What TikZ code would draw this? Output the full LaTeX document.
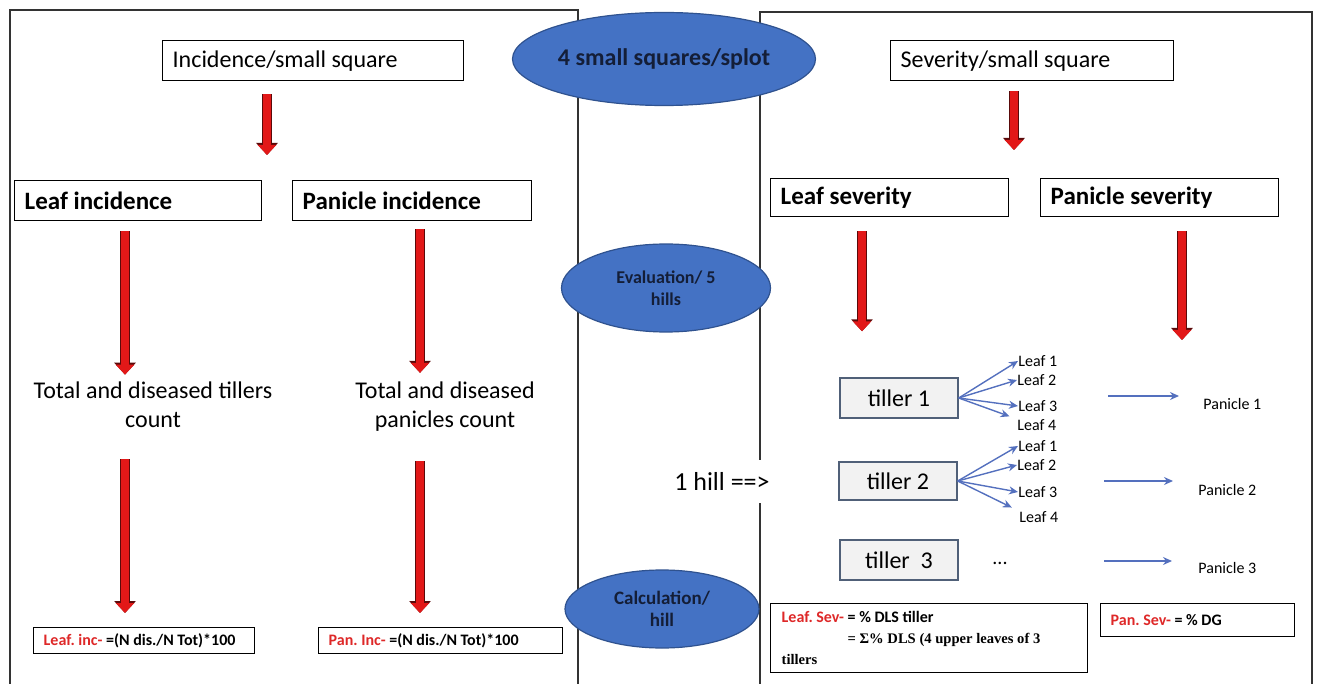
\documentclass[tikz,border=0pt]{standalone}
\usepackage{fontspec}
\setmainfont{Carlito}
\newfontfamily\timesfont{Liberation Serif}
\frenchspacing
\usetikzlibrary{arrows.meta,shapes.geometric}
\definecolor{ovalblue}{RGB}{68,114,196}
\definecolor{ovaledge}{RGB}{47,82,143}
\definecolor{ovaltext}{RGB}{20,30,55}
\definecolor{arrred}{RGB}{226,24,24}
\definecolor{arredge}{RGB}{90,10,10}
\definecolor{labred}{RGB}{222,40,40}
\definecolor{thinblue}{RGB}{84,112,190}
\definecolor{tillfill}{RGB}{242,242,242}
\definecolor{tilledge}{RGB}{80,96,120}
\tikzset{>={Stealth[length=4.5pt,width=4pt]}}
\tikzset{redarr/.style={draw=arrred, line width=4pt, -{Triangle[length=5pt,width=9pt]},
  preaction={draw=arredge, line width=5pt, -{Triangle[length=6pt,width=10.5pt]}}}}

\begin{document}
\begin{tikzpicture}[x=0.5pt,y=-0.5pt]

\tikzstyle{box}=[draw, line width=0.7pt, anchor=north west, inner xsep=5pt, inner ysep=0pt,
  execute at begin node={\spaceskip=0pt\xspaceskip=0pt\relax}]
\tikzstyle{head}=[box, minimum height=20pt, font=\fontsize{12.5}{15}\selectfont\bfseries]
\tikzstyle{formula}=[box, font=\fontsize{8}{10.5}\selectfont\bfseries]
\tikzstyle{oval}=[ellipse, fill=ovalblue, draw=ovaledge, line width=0.6pt, inner sep=0pt,
  text=ovaltext, align=center]
\tikzstyle{tiller}=[draw=tilledge, fill=tillfill, line width=0.7pt, minimum width=59pt,
  minimum height=20pt, font=\fontsize{12}{14}\selectfont]
\tikzstyle{small}=[inner sep=0pt, anchor=west, font=\fontsize{8}{9}\selectfont]
\tikzstyle{bluearr}=[thinblue, line width=0.7pt, ->]

\useasboundingbox (0,0) rectangle (1317,684);

% panels
\draw[line width=0.7pt, black!80] (10,684) -- (10,10) -- (578,10) -- (578,684);
\draw[line width=0.7pt, black!80] (760,684) -- (760,12) -- (1312,12) -- (1312,684);

% incidence side
\node[box, text width=140.5pt, minimum height=20pt, font=\fontsize{12}{14}\selectfont]
  (inc) at (162,40) {\mbox{Incidence/small square}};
\node[head, text width=113.5pt] (leafinc) at (14,180) {\mbox{Leaf incidence}};
\node[head, text width=109.5pt] (paninc) at (292,180) {\mbox{Panicle incidence}};
\node[align=center, inner sep=0pt, font=\fontsize{12}{14.5}\selectfont]
  (totl) at (153,405) {Total and diseased tillers\\count};
\node[align=center, inner sep=0pt, font=\fontsize{12}{14.5}\selectfont]
  (totp) at (445,407) {Total and diseased\\panicles count};
\node[formula, text width=100.5pt, minimum height=13pt] (lfinc) at (33,627)
  {\mbox{{\color{labred}Leaf. inc-} =(N dis./N Tot)*100}};
\node[formula, text width=112pt, minimum height=13pt] (pfinc) at (318,627)
  {\mbox{{\color{labred}Pan. Inc-} =(N dis./N Tot)*100}};

% severity side
\node[box, text width=131.5pt, minimum height=20pt, font=\fontsize{12}{14}\selectfont]
  (sev) at (890,40) {\mbox{Severity/small square}};
\node[head, text width=109pt, minimum height=19pt] (leafsev) at (770,178) {\mbox{Leaf severity}};
\node[head, text width=109pt, minimum height=19pt] (pansev) at (1040,178) {\mbox{Panicle severity}};

\node[tiller] (t1) at (899,398) {tiller 1};
\node[tiller, minimum height=19pt] (t2) at (898,481) {tiller 2};
\node[tiller] (t3) at (899,560) {tiller~~3};
\node[font=\fontsize{10}{12}\selectfont] (dots) at (1000,563) {...};

\node[small] (l11) at (1018,361) {Leaf 1};
\node[small] (l12) at (1017,380) {Leaf 2};
\node[small] (l13) at (1018,406) {Leaf 3};
\node[small] (l14) at (1017,425) {Leaf 4};
\node[small] (l21) at (1018,446) {Leaf 1};
\node[small] (l22) at (1017,465) {Leaf 2};
\node[small] (l23) at (1018,492) {Leaf 3};
\node[small] (l24) at (1019,517) {Leaf 4};

\node[small] (p1) at (1203,404) {Panicle 1};
\node[small] (p2) at (1198,490) {Panicle 2};
\node[small] (p3) at (1198,568) {Panicle 3};
\coordinate (pa1) at (1108,396);
\coordinate (pa2) at (1104,481);
\coordinate (pa3) at (1104,561);

\node[formula, text width=147.5pt, minimum height=34.5pt, inner xsep=5.5pt] (lfsev) at (770,603)
  {\mbox{{\color{labred}Leaf. Sev-} = \% DLS tiller}\\
   \hspace*{33pt}\mbox{\timesfont\fontsize{7.3}{10.5}\selectfont = Σ\% DLS (4 upper leaves of 3}\\
   \mbox{\timesfont\fontsize{7.3}{10.5}\selectfont tillers}};
\node[formula, text width=87pt, minimum height=16.5pt] (pfsev) at (1100,603)
  {\mbox{{\color{labred}Pan. Sev-} = \% DG}};

% middle column
\node[oval, minimum width=151.5pt, minimum height=46.5pt, font=\fontsize{12}{14}\selectfont\bfseries]
  (plot) at (664,59) {4 small squares/splot};
\node[oval, minimum width=104.5pt, minimum height=44pt, font=\fontsize{9}{11}\selectfont\bfseries]
  (eval) at (666,288) {Evaluation/ 5\\hills};
\node[oval, minimum width=97pt, minimum height=39pt, font=\fontsize{9.5}{11}\selectfont\bfseries]
  (calc) at (662,609) {Calculation/\\hill};
\node[fill=white, inner xsep=1pt, minimum height=21.5pt, font=\fontsize{13}{15}\selectfont]
  (hill) at (722,481) {1 hill ==>};

% red arrows
\coordinate (c1) at (125,0);
\coordinate (c2) at (420,0);
\coordinate (c3) at (267,0);
\coordinate (c4) at (1014,0);
\coordinate (c5) at (862,0);
\coordinate (c6) at (1182,0);
\draw[redarr, shorten <=6.5pt, shorten >=12.5pt] (c3 |- inc.south) -- (c3 |- leafinc.north);
\draw[redarr, shorten <=5pt, shorten >=3.5pt] (c1 |- leafinc.south) -- (c1 |- totl.north);
\draw[redarr, shorten <=4pt, shorten >=4.5pt] (c2 |- paninc.south) -- (c2 |- totp.north);
\draw[redarr, shorten <=15.5pt, shorten >=7pt] (c1 |- totl.south) -- (c1 |- lfinc.north);
\draw[redarr, shorten <=14.5pt, shorten >=7pt] (c2 |- totp.south) -- (c2 |- pfinc.north);
\draw[redarr, shorten <=5pt, shorten >=14pt] (c4 |- sev.south) -- (c4 |- leafsev.north);
\draw[redarr, shorten <=7pt, shorten >=23pt] (c5 |- leafsev.south) -- (c5 |- t1.north);
\draw[redarr, shorten <=7pt, shorten >=29pt] (c6 |- pansev.south) -- (c6 |- p1.north);

% blue arrows
\foreach \t/\a/\b/\c/\d in {t1/l11/l12/l13/l14, t2/l21/l22/l23/l24} {
  \draw[bluearr] (\t.east) -- (\a.west);
  \draw[bluearr] (\t.east) -- (\b.west);
  \draw[bluearr] (\t.east) -- (\c.west);
  \draw[bluearr, shorten >=4pt] (\t.east) -- (\d.north west);
}
\draw[bluearr, shorten >=12pt] (pa1) -- (pa1 -| p1.west);
\draw[bluearr, shorten >=12.5pt] (pa2) -- (pa2 -| p2.west);
\draw[bluearr, shorten >=13pt] (pa3) -- (pa3 -| p3.west);

\end{tikzpicture}
\end{document}
